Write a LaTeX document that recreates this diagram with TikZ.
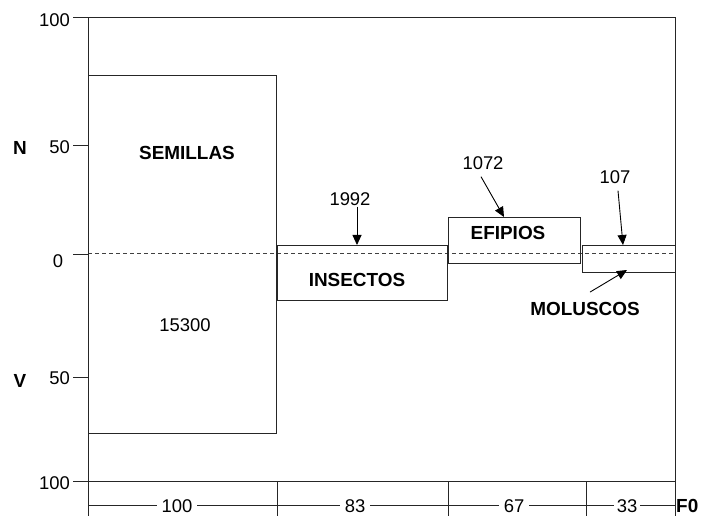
\documentclass[tikz,border=0pt]{standalone}
\usepackage{fontspec}
\setmainfont{Liberation Sans}
\usetikzlibrary{arrows.meta,calc}
\begin{document}
\begin{tikzpicture}[x=1bp,y=-1bp,
  lbl/.style={font=\fontsize{18.5}{20}\selectfont, inner sep=0pt},
  blbl/.style={font=\bfseries\fontsize{19}{21}\selectfont, inner sep=0pt},
  frame/.style={line width=0.9bp, draw=black!85},
  box/.style={draw=black!85, line width=1.1bp, inner sep=0pt, anchor=north west},
  arr/.style={-{Triangle[length=10bp,width=9bp]}, line width=0.9bp},
  zero/.style={dash pattern=on 4bp off 3bp, draw=black!75, line width=1bp},
  axlbl/.style={lbl, fill=white, inner xsep=5bp, inner ysep=1bp}]
\useasboundingbox (0,0) rectangle (701,516);
\fill[white] (0,0) rectangle (701,516);
% frame
\draw[frame] (88,516) -- (88,17) -- (675,17) -- (675,516);
\draw[frame] (88,481) -- (675,481);
\foreach \yy in {17,145,254,377,481} \draw[frame] (73,\yy) -- (88,\yy);
\foreach \xx in {277,448,586} \draw[frame] (\xx,481) -- (\xx,516);
% left axis labels
\node[lbl, anchor=east] (y100a) at (70,20) {100};
\node[lbl, anchor=east] (y50a) at (70,147) {50};
\node[lbl] (y0) at (58,261) {0};
\node[lbl, anchor=east] (y50b) at (70,378) {50};
\node[lbl, anchor=east] (y100b) at (70,483) {100};
\node[blbl] (N) at (20,148) {N};
\node[blbl] (V) at (20,381) {V};
% zero line
\draw[zero] (88,254) -- (675,254);
% boxes
\node[box, minimum width=188bp, minimum height=358bp] (semillas) at (88,75) {};
\node[box, minimum width=170bp, minimum height=55bp] (insectos) at (277,245) {};
\node[box, minimum width=132bp, minimum height=46bp] (efipios) at (448,217) {};
\node[box, minimum width=93bp, minimum height=27bp] (moluscos) at (582,245) {};
% box labels
\node[blbl] (tsem) at (187,153) {SEMILLAS};
\node[lbl] (n15300) at (185,325) {15300};
\node[blbl] (tins) at (357,280) {INSECTOS};
\node[blbl] (tefi) at (508,233) {EFIPIOS};
\node[blbl] (tmol) at (585,309) {MOLUSCOS};
% count labels
\node[lbl] (l1992) at (350,199) {1992};
\node[lbl] (l1072) at (483,163) {1072};
\node[lbl] (l107) at (615,177) {107};
% arrow tips
\coordinate (tI) at (357,245);
\coordinate (tE) at (504,217);
\coordinate (tM) at (623,245);
\coordinate (tMb) at (627,270);
\draw[arr] (l1992.south -| tI) ++(0,1) -- (tI);
\draw[arr] ($(l1072.south)+(-2,7)$) -- (tE);
\draw[arr] ($(l107.south)+(3,7)$) -- (tM);
\draw[arr] ($(tmol.north)+(5,-10)$) -- (tMb);
% bottom axis
\draw[frame] (88,505) -- (675,505);
\node[axlbl] (x100) at (177,506) {100};
\node[axlbl] (x83) at (355,506) {83};
\node[axlbl] (x67) at (514,506) {67};
\node[axlbl, inner xsep=3bp] (x33) at (627,506) {33};
\node[blbl, anchor=west] (F0) at (676,506) {F0};
\end{tikzpicture}
\end{document}
